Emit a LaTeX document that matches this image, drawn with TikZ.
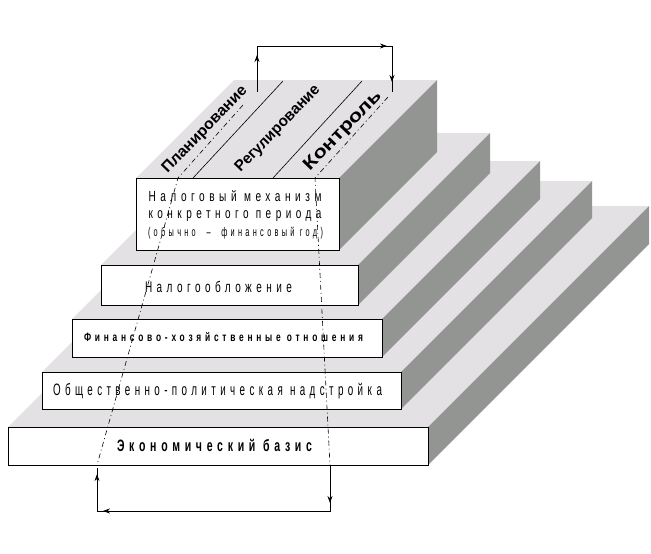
\documentclass[tikz,border=0pt]{standalone}
\usepackage{fontspec}
\usepackage{graphicx}
\setmainfont{Liberation Sans}
\newfontfamily\spaced{Liberation Sans}[LetterSpace=45]
\newfontfamily\plainb{Liberation Sans}
\usetikzlibrary{arrows.meta,decorations.markings}
\definecolor{topc}{HTML}{E3E1E3}
\definecolor{sidec}{HTML}{939593}
\newsavebox\fitbox
\newlength\fitlen
\newcommand\fitto[3][1]{\sbox\fitbox{#3}\setlength\fitlen{\wd\fitbox}\pgfmathsetmacro\fitr{#2/\fitlen}\scalebox{\fitr}[#1]{\usebox\fitbox}}
\newcommand\fsz[1]{\fontsize{#1}{#1}\selectfont}
\newcommand\slab[6]{%
  \fill[topc] (#1,#2) -- (#3,#2) -- (#3+#5,#2-#5) -- (#1+#5,#2-#5) -- cycle;
  \fill[sidec] (#3,#2) -- (#3+#5,#2-#5) -- (#3+#5,#4-#5) -- (#3,#4) -- cycle;
  \pgfmathsetmacro\bw{#3-#1}\pgfmathsetmacro\bh{#4-#2}%
  \node[frontbox,minimum width=\bw pt,minimum height=\bh pt,anchor=north west] (#6) at (#1,#2) {};
}
\tikzset{
  frontbox/.style={draw=black,fill=white,line width=0.8pt,inner sep=0pt,outer sep=0pt},
  txt/.style={inner sep=0pt,outer sep=0pt,text=black},
  rlab/.style={inner sep=0pt,outer sep=0pt,text=black,rotate=46},
  thin/.style={line width=0.6pt,black},
  dashdot/.style={line width=0.6pt,black,dash pattern=on 5pt off 3pt on 1pt off 3pt},
  loopline/.style={line width=0.8pt,black}
}
\begin{document}
\begin{tikzpicture}[x=1pt,y=-1pt]
\useasboundingbox (0,0) rectangle (651,554);
\fill[white] (0,0) rectangle (651,554);
% slabs, bottom to top
\slab{8}{427}{428}{465}{221}{s1}
\slab{42}{372}{401}{409}{191}{s2}
\slab{72}{319}{382}{357}{158}{s3}
\slab{101}{265}{358}{305}{132}{s4}
\slab{136}{178}{339}{250}{98}{s5}
% dividing lines on the top face
\coordinate (d1a) at (193,178); \coordinate (d1b) at (283,81);
\coordinate (d2a) at (273,178); \coordinate (d2b) at (362,81);
\draw[thin] (d1a) -- (d1b);
\draw[thin] (d2a) -- (d2b);
% rotated labels
\node[rlab] (plan) at (205,130) {\fitto[1.1]{115}{\plainb\bfseries\fsz{14}Планирование}};
\node[rlab] (reg) at (278,129) {\fitto[1.1]{115}{\plainb\bfseries\fsz{14}Регулирование}};
\node[rlab] (kon) at (343,131) {\fitto[1.1]{104}{\plainb\bfseries\fsz{16}Контроль}};
% box texts
\node[txt] (t5a) at (235,196) {\fitto[1.05]{173}{\spaced\fsz{14}Налоговый механизм}};
\node[txt] (t5b) at (235,216) {\fitto[1.05]{173}{\spaced\fsz{14}конкретного периода}};
\node[txt] (t5c) at (235.5,233) {\fitto[1.05]{175}{\spaced\fsz{12}(обычно \ – \ финансовый год)}};
\node[txt] (t4) at (218.5,287) {\fitto[1.1]{147}{\spaced\fsz{14}Налогообложение}};
\node[txt] (t3) at (223.5,337) {\fitto[1.1]{279}{\spaced\bfseries\fsz{11}Финансово-хозяйственные отношения}};
\node[txt] (t2) at (217.5,391) {\fitto[1.1]{329}{\spaced\fsz{15}Общественно-политическая надстройка}};
\node[txt] (t1) at (214.5,445) {\fitto[1.1]{195}{\spaced\bfseries\fsz{15}Экономический базис}};
% dash-dot lines
\coordinate (l0) at (243,105); \coordinate (l1) at (178,178); \coordinate (l2) at (97,465);
\coordinate (r0) at (388,97); \coordinate (r1) at (315,178); \coordinate (r2) at (330,465);
\draw[dashdot] (l0) -- (l1) -- (l2);
\draw[dashdot] (r0) -- (r1) -- (r2);
% top loop
\coordinate (ta) at (257,92); \coordinate (tb) at (257,46);
\coordinate (tc) at (392,46); \coordinate (td) at (392,92);
\draw[loopline,postaction={decorate},decoration={markings,
  mark=at position 0.163 with {\arrow{Stealth[length=7pt,width=5pt]}},
  mark=at position 0.775 with {\arrow{Stealth[length=7pt,width=5pt]}},
  mark=at position 0.956 with {\arrow{Stealth[length=7pt,width=5pt]}}}] (ta) -- (tb) -- (tc) -- (td);
% bottom loop
\coordinate (ba) at (330,465); \coordinate (bb) at (330,511);
\coordinate (bc) at (97,511); \coordinate (bd) at (97,468);
\draw[loopline,postaction={decorate},decoration={markings,
  mark=at position 0.118 with {\arrow{Stealth[length=7pt,width=5pt]}},
  mark=at position 0.848 with {\arrow{Stealth[length=7pt,width=5pt]}},
  mark=at position 0.981 with {\arrow{Stealth[length=7pt,width=5pt]}}}] (ba) -- (bb) -- (bc) -- (bd);
\end{tikzpicture}
\end{document}
